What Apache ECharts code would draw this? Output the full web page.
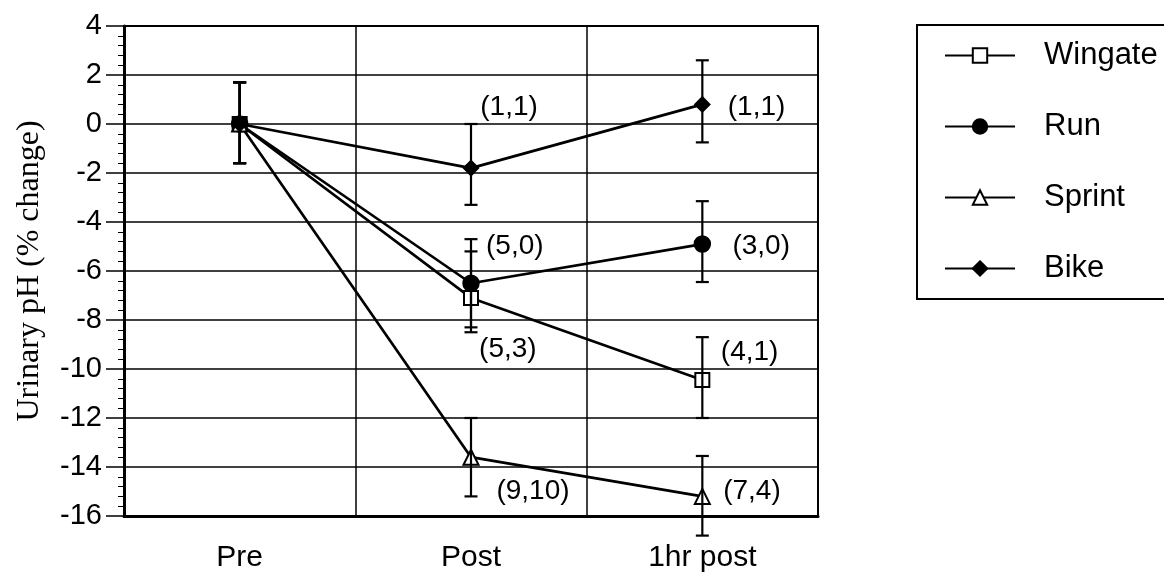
<!DOCTYPE html>
<html>
<head>
<meta charset="utf-8">
<script src="https://cdn.jsdelivr.net/npm/echarts@6/dist/echarts.min.js"></script>
<style>
  html, body { margin: 0; padding: 0; background: #fff; }
  #chart { width: 1164px; height: 573px; }
</style>
</head>
<body>
<div id="chart"></div>
<script>
// categories and values
const categories = ['Pre', 'Post', '1hr post']
const seriesNames = ['Wingate', 'Run', 'Sprint', 'Bike']

const wingate = [0, -7.1, -10.45]
const run = [0, -6.5, -4.9]
const sprint = [0, -13.6, -15.2]
const bike = [0, -1.8, 0.8]

// error bars [low, high] per category
const wingateErr = [[-1.6, 1.7], [-8.5, -5.2], [-12.0, -8.7]]
const runErr = [[-1.6, 1.7], [-8.3, -4.7], [-6.45, -3.15]]
const sprintErr = [[-1.6, 1.7], [-15.2, -12.0], [-16.8, -13.55]]
const bikeErr = [[-1.6, 1.7], [-3.3, 0], [-0.75, 2.6]]

// annotations: [x (category units), y, text]
const annotations = [
  [1.04, 0.69, '(1,1)'],
  [2.11, 0.69, '(1,1)'],
  [1.065, -5.0, '(5,0)'],
  [2.13, -5.0, '(3,0)'],
  [1.035, -9.2, '(5,3)'],
  [2.08, -9.3, '(4,1)'],
  [1.11, -15.0, '(9,10)'],
  [2.09, -15.0, '(7,4)']
]

const yMin = -16
const yMax = 4
const yInterval = 2

const values = [wingate, run, sprint, bike]
const errors = [wingateErr, runErr, sprintErr, bikeErr]
const symbols = ['emptyRect', 'circle', 'emptyTriangle', 'diamond']
const symbolSizes = [14, 16, 15, 15]

const sans = 'Liberation Sans, Arial, sans-serif'

const chart = echarts.init(document.getElementById('chart'))

const lineSeries = seriesNames.map((name, i) => ({
  name: name,
  type: 'line',
  xAxisIndex: 0,
  data: values[i],
  symbol: symbols[i],
  symbolSize: symbolSizes[i],
  showAllSymbol: true,
  color: '#000',
  itemStyle: { color: '#000', borderColor: '#000', borderWidth: 1.5 },
  lineStyle: { color: '#000', width: 2.7 },
  z: 3,
  animation: false
}))

const errSeries = errors.map((err) => ({
  type: 'custom',
  xAxisIndex: 0,
  clip: false,
  z: 4,
  silent: true,
  data: err.map((e, j) => [j, e[0], e[1]]),
  renderItem: function (params, api) {
    const low = api.coord([api.value(0), api.value(1)])
    const high = api.coord([api.value(0), api.value(2)])
    const cap = 6.5
    const st = { stroke: '#000', lineWidth: 2.2 }
    return {
      type: 'group',
      children: [
        { type: 'line', shape: { x1: low[0], y1: low[1], x2: high[0], y2: high[1] }, style: st },
        { type: 'line', shape: { x1: low[0] - cap, y1: low[1], x2: low[0] + cap, y2: low[1] }, style: st },
        { type: 'line', shape: { x1: high[0] - cap, y1: high[1], x2: high[0] + cap, y2: high[1] }, style: st }
      ]
    }
  },
  animation: false
}))

const annoSeries = {
  type: 'scatter',
  xAxisIndex: 1,
  symbolSize: 0,
  silent: true,
  z: 5,
  itemStyle: { opacity: 1 },
  data: annotations.map(a => ({ value: [a[0], a[1]], text: a[2] })),
  label: {
    show: true,
    position: 'right',
    distance: 0,
    formatter: p => p.data.text,
    color: '#000',
    fontFamily: sans,
    fontSize: 28
  },
  animation: false
}

chart.setOption({
  backgroundColor: '#fff',
  animation: false,
  grid: {
    left: 124,
    top: 26,
    right: 346,
    bottom: 56,
    show: true,
    borderColor: '#000',
    borderWidth: 2
  },
  legend: {
    data: seriesNames,
    orient: 'vertical',
    left: 917,
    top: 25,
    itemWidth: 70,
    itemHeight: 18,
    itemGap: 40,
    padding: [15, 90, 15, 27],
    borderColor: '#000',
    borderWidth: 2,
    textStyle: {
      color: '#000',
      fontFamily: sans,
      fontSize: 31,
      padding: [0, 0, 0, 24]
    }
  },
  xAxis: [
    {
      type: 'category',
      data: categories,
      boundaryGap: true,
      axisLine: { onZero: false, lineStyle: { color: '#000', width: 3 } },
      axisTick: { show: false },
      axisLabel: {
        color: '#000',
        fontFamily: sans,
        fontSize: 30,
        margin: 27
      },
      splitLine: { show: true, lineStyle: { color: '#000', width: 1.5 } }
    },
    {
      type: 'value',
      show: false,
      min: -0.5,
      max: 2.5,
      splitLine: { show: false }
    }
  ],
  yAxis: {
    type: 'value',
    min: yMin,
    max: yMax,
    interval: yInterval,
    name: 'Urinary pH (% change)',
    nameLocation: 'middle',
    nameGap: 78,
    nameTextStyle: {
      color: '#000',
      fontFamily: 'Liberation Serif, Times New Roman, serif',
      fontSize: 32
    },
    axisLine: { show: true, onZero: false, lineStyle: { color: '#000', width: 3 } },
    axisTick: { show: true, length: 18, lineStyle: { color: '#000', width: 1.5 } },
    minorTick: { show: true, splitNumber: 5, length: 6, lineStyle: { color: '#000', width: 1 } },
    axisLabel: {
      color: '#000',
      fontFamily: sans,
      fontSize: 29,
      margin: 22
    },
    splitLine: { show: true, lineStyle: { color: '#000', width: 1.5 } }
  },
  series: [...lineSeries, ...errSeries, annoSeries]
})
</script>
</body>
</html>
